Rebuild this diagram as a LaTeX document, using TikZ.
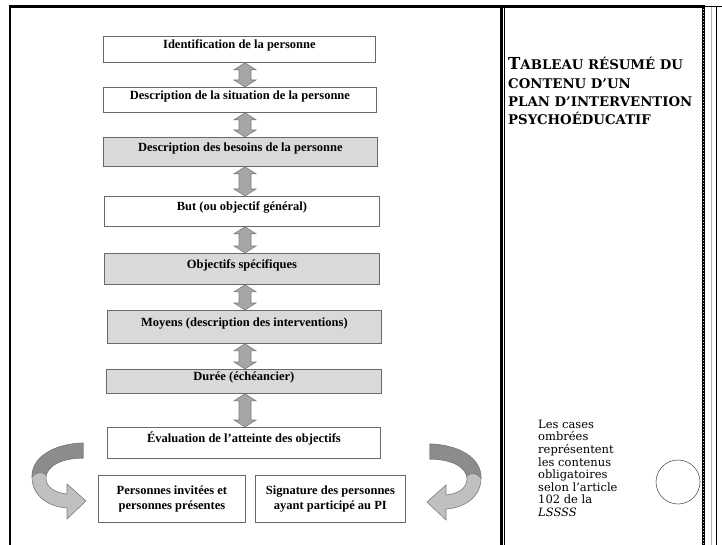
\documentclass[tikz,border=0pt]{standalone}
\usepackage{fontspec}
\usetikzlibrary{calc}
\newfontfamily\boxfont{Liberation Serif}
\newfontfamily\notefont{DejaVu Serif}
\newfontfamily\ttlfamily{DejaVu Serif}
\definecolor{boxgray}{RGB}{217,217,217}
\definecolor{boxline}{RGB}{105,105,105}
\definecolor{arrfill}{RGB}{166,166,166}
\definecolor{arrline}{RGB}{125,125,125}
\definecolor{curvedark}{RGB}{140,140,140}
\definecolor{curvelight}{RGB}{192,192,192}
\newcommand{\mytitlefont}{\ttlfamily\bfseries\fontsize{13.3}{16}\selectfont}
\newcommand{\bigT}{{\fontsize{16.5}{18}\selectfont T}}
\newcommand{\vdblarrow}[2]{%
  \path[dblarr] let \p1=(#1.south -| ax), \p2=(#2.north -| ax) in
    (\x1,\y1) -- (\x1+11pt,\y1-7pt) -- (\x1+6pt,\y1-7pt) -- (\x1+6pt,\y2+7pt)
    -- (\x1+11pt,\y2+7pt) -- (\x1,\y2) -- (\x1-11pt,\y2+7pt) -- (\x1-6pt,\y2+7pt)
    -- (\x1-6pt,\y1-7pt) -- (\x1-11pt,\y1-7pt) -- cycle;}
\tikzset{
  mbox/.style={draw=boxline, line width=0.8pt, fill=white, anchor=north west,
    inner sep=0pt, text height=8pt, text depth=9pt,
    font=\boxfont\bfseries\fontsize{12.5}{14}\selectfont},
  shaded/.style={mbox, fill=boxgray},
  sbox/.style={draw=boxline, line width=0.8pt, fill=white, anchor=north west,
    inner sep=0pt, align=center,
    font=\boxfont\bfseries\fontsize{12.5}{15}\selectfont},
  dblarr/.style={fill=arrfill, draw=arrline, line width=0.6pt},
  curvelt/.style={fill=curvelight, draw=arrline, line width=0.6pt},
  curvedk/.style={fill=curvedark, draw=arrline, line width=0.6pt},
  ttl/.style={anchor=base west, inner sep=0pt, font=\mytitlefont},
  note/.style={anchor=north west, inner sep=0pt, align=left,
    font=\notefont\fontsize{11.5}{12.6}\selectfont}
}
\begin{document}
\begin{tikzpicture}[x=1pt,y=-1pt]
\useasboundingbox (0,0) rectangle (722,545);
\fill[white] (0,0) rectangle (722,545);
% frame lines
\draw[line width=3pt] (9,7) -- (705,7);
\draw[line width=1.5pt] (705,6.5) -- (722,6.5);
\draw[line width=2.6pt] (10,5.5) -- (10,545);
\draw[line width=2.6pt] (501.3,5.5) -- (501.3,545);
\draw[line width=1pt] (504.8,7) -- (504.8,545);
\draw[line width=3pt] (703.5,5.5) -- (703.5,545);
\draw[line width=0.8pt, gray!40, dash pattern=on 0.7pt off 2.3pt] (703.5,9) -- (703.5,545);
\draw[line width=0.9pt, gray!60] (711,7) -- (711,545);
\draw[line width=1pt] (716,7) -- (716,545);
% boxes
\coordinate (ax) at (245,0);
\node[mbox, minimum width=272pt, minimum height=26pt] (b1) at (103,36) {Identification de la personne};
\node[mbox, minimum width=273pt, minimum height=25pt] (b2) at (103,87) {Description de la situation de la personne};
\node[shaded, minimum width=274pt, minimum height=29pt] (b3) at (103,137) {Description des besoins de la personne};
\node[mbox, minimum width=275pt, minimum height=30pt] (b4) at (104,196) {But (ou objectif général)};
\node[shaded, minimum width=275pt, minimum height=31pt] (b5) at (104,253) {Objectifs spécifiques};
\node[shaded, minimum width=274pt, minimum height=33pt] (b6) at (107,310) {Moyens (description des interventions)};
\node[shaded, minimum width=275pt, minimum height=24pt] (b7) at (106,369) {Durée (échéancier)};
\node[mbox, minimum width=273pt, minimum height=31pt] (b8) at (107,427) {Évaluation de l’atteinte des objectifs};
\node[sbox, minimum width=147pt, minimum height=47pt] (b9) at (98,475) {Personnes invitées et\\personnes présentes};
\node[sbox, minimum width=150pt, minimum height=47pt] (b10) at (255,475) {Signature des personnes\\ayant participé au PI};
% double arrows
\vdblarrow{b1}{b2}
\vdblarrow{b2}{b3}
\vdblarrow{b3}{b4}
\vdblarrow{b4}{b5}
\vdblarrow{b5}{b6}
\vdblarrow{b6}{b7}
\vdblarrow{b7}{b8}
% curved arrows
\foreach \sx/\sh/\dy in {1/0/0, -1/513/1}{
\begin{scope}[xshift=\sh pt, xscale=\sx, yshift=-\dy pt]
\path[curvelt] (83,443) .. controls (55,444) and (32,456) .. (32,477)
  .. controls (32,497) and (50,507) .. (67,508)
  -- (67,519) -- (86,501) -- (67,484) -- (67,494)
  .. controls (55,493) and (46,487) .. (46,478)
  .. controls (46,466) and (62,458) .. (83,458) -- cycle;
\path[curvedk] (83,443) .. controls (55,444) and (32,456) .. (32,477)
  .. controls (36,472) and (42,471) .. (46,475)
  .. controls (48,465) and (63,458) .. (83,458) -- cycle;
\end{scope}}
% right panel
\node[ttl] (t1) at (508,70) {\bigT ABLEAU RÉSUMÉ DU};
\node[ttl] (t2) at (508,88.3) {CONTENU D’UN};
\node[ttl] (t3) at (508,106.7) {PLAN D’INTERVENTION};
\node[ttl] (t4) at (508,125) {PSYCHOÉDUCATIF};
\node[note] (nt) at (538,419.8) {Les cases\\ombrées\\représentent\\les contenus\\obligatoires\\selon l’article\\102 de la\\\textit{LSSSS}};
\draw[line width=0.6pt, gray!70!black] (678,482) circle (22pt);
\end{tikzpicture}
\end{document}
